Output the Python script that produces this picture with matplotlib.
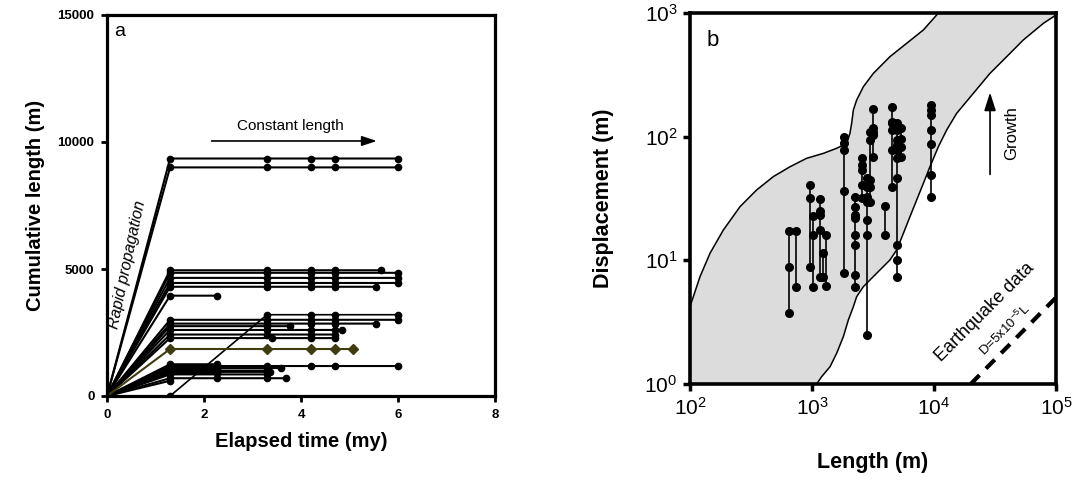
import numpy as np
import matplotlib
matplotlib.use("Agg")
import matplotlib.pyplot as plt

plt.rcParams['font.family'] = ['Liberation Sans', 'DejaVu Sans']
plt.rcParams['mathtext.fontset'] = 'custom'
plt.rcParams['mathtext.rm'] = 'Liberation Sans'
plt.rcParams['mathtext.it'] = 'Liberation Sans:italic'

# panel a: fault length (m) reached at 1.3 my, and the times (my) it was measured at
fault_len = [9350, 9000,
             4950, 4850, 4650, 4450, 4300, 3950,
             3000, 2850, 2750, 2600, 2420, 2280,
             1250, 1180, 1100, 1050, 1000, 1000, 950, 900, 850, 700, 600]
fault_times = [[1.3, 3.3, 4.2, 4.7, 6.0], [1.3, 3.3, 4.2, 4.7, 6.0],
               [1.3, 3.3, 4.2, 4.7, 5.65], [1.3, 3.3, 4.2, 4.7, 6.0],
               [1.3, 3.3, 4.2, 4.7, 6.0], [1.3, 3.3, 4.2, 4.7, 6.0],
               [1.3, 3.3, 4.2, 4.7, 5.55], [1.3, 2.27],
               [1.3, 3.3, 4.2, 4.7, 6.0], [1.3, 3.3, 4.2, 4.7, 5.55],
               [1.3, 3.3, 3.77], [1.3, 3.3, 4.2, 4.7, 4.85],
               [1.3, 3.3, 4.2, 4.7], [1.3, 3.4, 4.2, 4.7],
               [1.3, 2.27], [1.3, 3.3, 4.2, 4.7, 6.0], [1.3, 2.27, 3.3, 3.58],
               [1.3, 2.27], [1.3, 3.3], [1.3, 2.27], [1.3, 3.36],
               [1.3, 2.27], [1.3, 3.3], [1.3, 2.27, 3.3, 3.69], [1.3]]

# late-starting fault (nucleates at 1.3 my)
late_times = [1.3, 3.3, 4.2, 4.7, 6.0]
late_len = [0, 3200, 3200, 3200, 3200]

# highlighted fault
olive_times = [1.3, 3.3, 4.2, 4.7, 5.07]
olive_len = 1850

# panel b: fault length (m) and displacements (m) at each stage
col_L = [647, 740, 963, 1026, 1164, 1303, 1222, 1841, 2250, 2553, 2805,
         3185, 2986, 3960, 4500, 4940, 5330, 9400]
col_D = [[17.3, 8.9, 3.73], [17.3, 6.05], [40.7, 31.7, 8.9], [22.8, 16.0, 6.1],
         [31.1, 25.2, 23.3, 17.6, 7.4], [16.0, 6.2], [11.4, 7.4],
         [98.8, 88.3, 78, 36.6, 7.85],
         [32.7, 27.2, 23.3, 21.9, 16.0, 13.3, 7.6, 6.1],
         [66.8, 59, 53.8, 40.7, 31.7], [46, 39.4, 32.7, 29.8, 21.2, 16.0, 2.49],
         [166, 117, 110, 103, 68.9], [110, 94, 44.6, 39.4, 29.8], [27.5, 16.0],
         [175, 132, 128, 113, 78, 39.4],
         [128, 113, 94, 85.6, 78, 66.8, 46, 13.3, 10.1, 7.4],
         [117, 96, 83, 69], [180, 164, 150, 113, 88, 49, 32.7]]

# envelope of global data (log10 L, log10 D)
env_up_logL = [2.0, 2.082, 2.164, 2.273, 2.41, 2.546, 2.683, 2.82, 2.956, 3.093,
               3.202, 3.284, 3.311, 3.325, 3.339, 3.366, 3.421, 3.503, 3.639,
               3.776, 3.913, 4.036, 4.1]
env_up_logD = [0.625, 0.868, 1.057, 1.245, 1.434, 1.569, 1.677, 1.757, 1.825,
               1.865, 1.906, 1.946, 2.027, 2.108, 2.216, 2.296, 2.404, 2.512,
               2.647, 2.755, 2.863, 3.0, 3.08]
env_lo_logL = [5.1, 5.0, 4.896, 4.732, 4.596, 4.459, 4.322, 4.186, 4.104, 4.036,
               3.967, 3.913, 3.858, 3.803, 3.749, 3.694, 3.639, 3.557, 3.475,
               3.421, 3.366, 3.339, 3.298, 3.257, 3.202, 3.148, 3.079, 3.038]
env_lo_logD = [3.05, 2.984, 2.916, 2.782, 2.647, 2.512, 2.35, 2.189, 2.054, 1.919,
               1.757, 1.623, 1.488, 1.353, 1.218, 1.084, 1.003, 0.922, 0.841,
               0.787, 0.706, 0.625, 0.518, 0.383, 0.248, 0.14, 0.059, 0.0]

quake_L = [2.0e4, 1.0e5]
quake_coef = 5e-5

fig = plt.figure(figsize=(10.74, 4.82), dpi=100)

# ---------------- panel a ----------------
ax = fig.add_axes([107/1074, 1-396/482, 388/1074, 381/482])
for v, ts in zip(fault_len, fault_times):
    xs = [0] + ts
    ys = [0] + [v] * len(ts)
    ax.plot(xs, ys, color='black', lw=1.5, marker='o', ms=4.5)
ax.plot([0] + late_times, [0] + late_len, color='black', lw=1.2, marker='o', ms=4.5)
ax.plot([0] + olive_times, [0] + [olive_len] * len(olive_times), color='#3f3c10',
        lw=1.5, marker='D', ms=5)

ax.set_xlim(0, 8)
ax.set_ylim(0, 15000)
ax.set_xticks([0, 2, 4, 6, 8])
ax.set_yticks([0, 5000, 10000, 15000])
for s in ax.spines.values():
    s.set_linewidth(2.3)
ax.tick_params(direction='out', length=4, width=2, labelsize=9.5, pad=5)
for lab in ax.get_xticklabels() + ax.get_yticklabels():
    lab.set_fontweight('bold')
ax.set_xlabel('Elapsed time (my)', fontsize=14.5, fontweight='bold', labelpad=8)
ax.set_ylabel('Cumulative length (m)', fontsize=14.5, fontweight='bold', labelpad=9)
ax.text(0.018, 0.945, 'a', transform=ax.transAxes, fontsize=14)
ax.text(3.79, 10630, 'Constant length', fontsize=11, ha='center', va='center')
ax.annotate('', xy=(5.62, 10040), xytext=(2.1, 10040),
            arrowprops=dict(arrowstyle='-|>,head_length=0.9,head_width=0.3',
                            color='black', lw=1.2))
ax.text(0.42, 5160, 'Rapid propagation', style='italic', fontsize=11.5,
        rotation=78, rotation_mode='anchor', ha='center', va='center')

# ---------------- panel b ----------------
bx = fig.add_axes([690/1074, 1-384/482, 366/1074, 371/482])
env_L = 10 ** np.array(env_up_logL + env_lo_logL + [3.0, 2.0, 2.0])
env_D = 10 ** np.array(env_up_logD + env_lo_logD + [-0.1, -0.1, 0.625])
bx.fill(env_L, env_D, facecolor='#dcdcdc', edgecolor='black', lw=1.1)
for L, ds in zip(col_L, col_D):
    bx.plot([L] * len(ds), ds, color='black', lw=1.2, marker='o', ms=5.5)
qL = np.array(quake_L)
bx.plot(qL, quake_coef * qL, color='black', lw=3, ls=(0, (3, 2.2)))

bx.set_xscale('log')
bx.set_yscale('log')
bx.set_xlim(1e2, 1e5)
bx.set_ylim(1e0, 1e3)
bx.minorticks_off()
bx.set_xticks([1e2, 1e3, 1e4, 1e5])
bx.set_yticks([1e0, 1e1, 1e2, 1e3])
for s in bx.spines.values():
    s.set_linewidth(2.6)
bx.tick_params(direction='out', length=5, width=2.5, labelsize=15, pad=4)
bx.set_xlabel('Length (m)', fontsize=15.5, fontweight='bold', labelpad=24)
bx.set_ylabel('Displacement (m)', fontsize=15.5, fontweight='bold', labelpad=22)
bx.text(0.045, 0.925, 'b', transform=bx.transAxes, fontsize=16, va='center')
bx.annotate('', xy=(2.88e4, 240), xytext=(2.88e4, 47),
            arrowprops=dict(arrowstyle='-|>,head_length=1.1,head_width=0.35',
                            color='black', lw=1.2))
bx.text(4.35e4, 107, 'Growth', fontsize=12, rotation=90,
        ha='center', va='center')
bx.text(2.62e4, 3.83, 'Earthquake data', fontsize=13, rotation=45,
        rotation_mode='anchor', ha='center', va='center')
bx.text(3.82e4, 2.74, r'D=5x10$^{-5}$L', fontsize=9.5, rotation=45,
        rotation_mode='anchor', ha='center', va='center')

fig.savefig('out.png', dpi=100)
